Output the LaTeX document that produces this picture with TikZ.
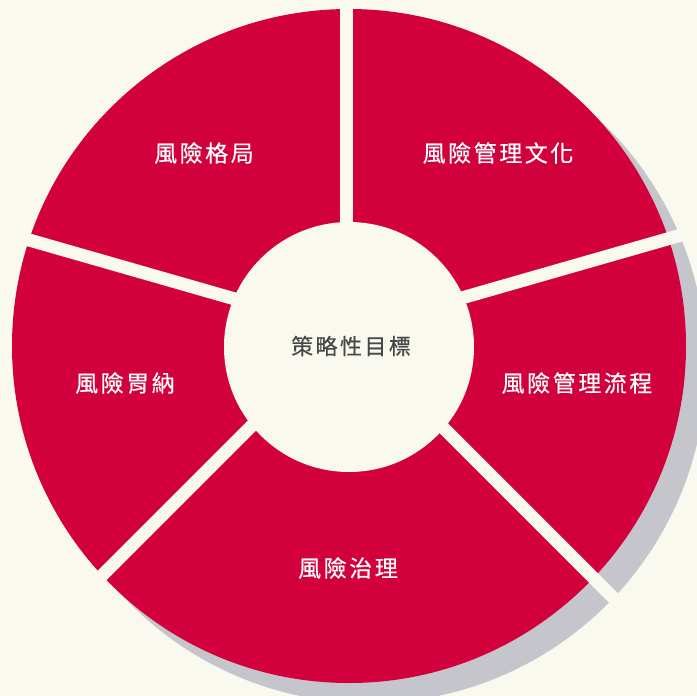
\documentclass[tikz,border=0pt]{standalone}
\usepackage{fontspec}
\newfontfamily\cjk{Noto Sans CJK TC}[LetterSpace=11,FakeBold=0.4]
\newfontfamily\cjkhub{Noto Sans CJK TC}[LetterSpace=11,FakeBold=0.4]
\definecolor{bgcream}{HTML}{FAF9F0}
\definecolor{wheelred}{HTML}{D2003C}
\definecolor{shadowgray}{HTML}{C5C5CC}
\definecolor{textdark}{HTML}{474747}
\tikzset{
  gapline/.style={draw=bgcream,line width=13pt},
  seglabel/.style={text=white,font=\cjk\fontsize{23}{27}\selectfont,inner sep=0pt},
  hublabel/.style={text=textdark,font=\cjkhub\fontsize{22}{26}\selectfont,inner sep=0pt}
}
\begin{document}
\begin{tikzpicture}[x=1pt,y=-1pt]
  \fill[bgcream] (0,0) rectangle (697,696);
  \useasboundingbox (0,0) rectangle (697,696);
  % shadow
  \fill[shadowgray] (369,366) circle[radius=337];
  % red wheel
  \fill[wheelred] (349,346) circle[radius=337];
  % gaps
  \coordinate (hubc) at (346.5,331);
  \foreach \a in {90,16,164,225,315}{
    \draw[gapline] (hubc) -- ([shift={(hubc)}] -\a:460);
  }
  % hub
  \fill[bgcream] (349,347) circle[radius=125];
  % labels
  \node[hublabel] (hub) at (351,346) {策略性目標};
  \node[seglabel] (s1) at (204,153) {風險格局};
  \node[seglabel] (s2) at (498,153) {風險管理文化};
  \node[seglabel] (s3) at (125,383) {風險胃納};
  \node[seglabel] (s4) at (577,383) {風險管理流程};
  \node[seglabel] (s5) at (348,568) {風險治理};
\end{tikzpicture}
\end{document}
